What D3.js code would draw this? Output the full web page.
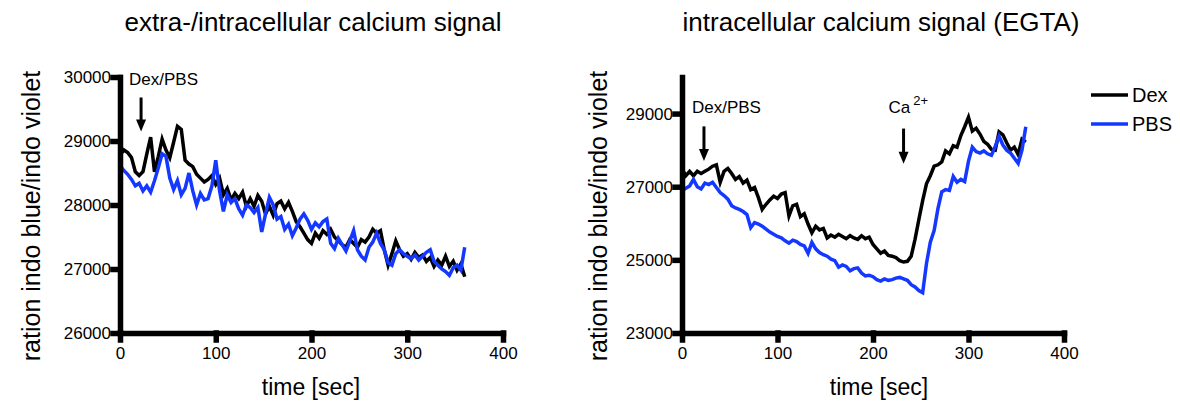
<!DOCTYPE html>
<html>
<head>
<meta charset="utf-8">
<script src="https://cdn.jsdelivr.net/npm/d3@7"></script>
<style>
    body { margin: 0; background: #fff; }
    svg text { font-family: "Liberation Sans", Arial, sans-serif; fill: #000; }
</style>
</head>
<body>
<div id="chart"></div>
<script>
// time points (sec)
const timeSec = [
    0, 4, 8, 12, 16, 20, 24, 28, 32, 36,
    40, 44, 48, 52, 56, 60, 64, 68, 72, 76,
    80, 84, 88, 92, 96, 100, 104, 108, 112, 116,
    120, 124, 128, 132, 136, 140, 144, 148, 152, 156,
    160, 164, 168, 172, 176, 180, 184, 188, 192, 196,
    200, 204, 208, 212, 216, 220, 224, 228, 232, 236,
    240, 244, 248, 252, 256, 260, 264, 268, 272, 276,
    280, 284, 288, 292, 296, 300, 304, 308, 312, 316,
    320, 324, 328, 332, 336, 340, 344, 348, 352, 356,
    360
];

// extra-/intracellular panel
const extraDex = [
    28780, 28860, 28820, 28740, 28520, 28460, 28520, 28800, 29060, 28520,
    28760, 29030, 28860, 28740, 28980, 29230, 29180, 28700, 28640, 28600,
    28480, 28420, 28360, 28400, 28460, 28320, 28420, 28160, 28260, 28080,
    28180, 28100, 28200, 27980, 28100, 27980, 28150, 28060, 27860, 27980,
    27840, 28020, 28060, 27940, 28040, 27900, 27740, 27660, 27560, 27460,
    27400, 27560, 27480, 27600, 27540, 27620, 27500, 27440, 27380, 27340,
    27460, 27400, 27340, 27460, 27420, 27500, 27620, 27560, 27600, 27300,
    27060, 27240, 27440, 27300, 27200, 27240, 27150, 27260, 27180, 27220,
    27120, 27180, 27040, 27140, 27060, 27200, 27040, 27120, 26980, 27080,
    26880
];
const extraPBS = [
    28620, 28540, 28480, 28400, 28300, 28340, 28220, 28300, 28200, 28380,
    28580, 28800, 28760, 28420, 28240, 28380, 28160, 28260, 28500, 28220,
    28000, 28180, 28080, 28100, 28300, 28700, 28220, 27900, 28160, 28040,
    28100, 27940, 27840, 28000, 27960, 27880, 27960, 27580, 27860, 28120,
    28000, 27780, 27820, 27620, 27700, 27520, 27640, 27780, 27860, 27760,
    27620, 27720, 27660, 27740, 27780, 27400, 27320, 27480, 27380, 27280,
    27440, 27600, 27300, 27200, 27140, 27340, 27420, 27560, 27400, 27300,
    27100, 27060, 27240, 27300, 27240, 27200, 27160, 27220, 27140, 27200,
    27260, 27300, 27120, 27060, 27000, 26960, 26900, 27020, 27060, 26980,
    27340
];

// intracellular (EGTA) panel
const egtaDex = [
    27480, 27300, 27420, 27300, 27420, 27360, 27420, 27480, 27560, 27600,
    27120, 27420, 27500, 27360, 27200, 27280, 27100, 27180, 26920, 26980,
    26700, 26380, 26520, 26640, 26740, 26680, 26800, 26840, 26200, 26480,
    26520, 26180, 26260, 25980, 25740, 25920, 25820, 25860, 25600, 25680,
    25620, 25700, 25640, 25580, 25660, 25600, 25560, 25660, 25580, 25620,
    25420, 25300, 25180, 25240, 25120, 25100, 25060, 24980, 24940, 24960,
    25100, 25560, 26100, 26620, 27080, 27300, 27560, 27600, 27680, 27980,
    27900, 28120, 28080, 28400, 28640, 28900, 28520, 28600, 28440, 28240,
    28160, 28020, 28000, 28500, 28420, 28200, 28000, 28080, 27880, 28300,
    28220
];
const egtaPBS = [
    26880, 26960, 27020, 27200, 27000, 26940, 27100, 27060, 27120, 26980,
    26840, 26760, 26660, 26480, 26420, 26380, 26320, 26240, 25880, 26020,
    25980, 25920, 25840, 25760, 25700, 25640, 25600, 25520, 25460, 25540,
    25500, 25420, 25380, 25180, 25480, 25300, 25200, 25140, 25100, 25020,
    24980, 24800, 24860, 24820, 24700, 24760, 24780, 24640, 24560, 24580,
    24540, 24460, 24420, 24480, 24440, 24460, 24500, 24520, 24480, 24440,
    24320, 24260, 24160, 24100, 24900, 25480, 25800, 26400, 26860, 26920,
    26900, 27280, 27120, 27200, 27140, 27700, 28080, 27960, 27920, 27980,
    27900, 27860, 28100, 28380, 28140, 28000, 27920, 27780, 27640, 28000,
    28640
];

const xTicks = [0, 100, 200, 300, 400];
const extraTicks = [26000, 27000, 28000, 29000, 30000];
const egtaTicks = [23000, 25000, 27000, 29000];
const seriesNames = ["Dex", "PBS"];
const seriesColors = ["#000000", "#1438ff"];

const svg = d3.select("#chart").append("svg")
    .attr("width", 1180)
    .attr("height", 405);

function drawPanel(opt) {
    const x = d3.scaleLinear().domain([0, 400]).range([opt.left, opt.right]);
    const y = d3.scaleLinear().domain(opt.yDomain).range([333, 77]);
    const g = svg.append("g");

    // title
    g.append("text")
        .attr("x", opt.titleX)
        .attr("y", 31)
        .attr("text-anchor", "middle")
        .style("font-size", "26px")
        .text(opt.title);

    // lines - Dex first, PBS on top
    const line = d3.line()
        .x((d, i) => x(timeSec[i]))
        .y(d => y(d));
    opt.series.forEach((vals, k) => {
        g.append("path")
            .datum(vals)
            .attr("fill", "none")
            .attr("stroke", seriesColors[k])
            .attr("stroke-width", 3.5)
            .attr("stroke-linejoin", "miter")
            .attr("d", line);
    });

    // axes
    const xAxisG = g.append("g")
        .attr("transform", `translate(0,${y.range()[0]})`)
        .call(d3.axisBottom(x).tickValues(xTicks).tickSize(7).tickSizeOuter(0).tickPadding(7));
    const yAxisG = g.append("g")
        .attr("transform", `translate(${opt.left},0)`)
        .call(d3.axisLeft(y).tickValues(opt.yTicks).tickFormat(d3.format("d")).tickSize(7).tickSizeOuter(0).tickPadding(2));
    [xAxisG, yAxisG].forEach(a => {
        a.selectAll(".domain, .tick line")
            .attr("stroke", "#000")
            .attr("stroke-width", 5.5)
            .attr("stroke-linecap", "square");
        a.selectAll("text")
            .style("font-size", "17px")
            .style("font-family", "'Liberation Sans', Arial, sans-serif");
    });

    // axis titles
    g.append("text")
        .attr("x", opt.titleX - 2)
        .attr("y", 395)
        .attr("text-anchor", "middle")
        .style("font-size", "23px")
        .text("time [sec]");
    g.append("text")
        .attr("transform", `translate(${opt.yLabelX},216) rotate(-90)`)
        .attr("text-anchor", "middle")
        .style("font-size", "25px")
        .text("ration indo blue/indo violet");

    // stimulus arrows
    opt.arrows.forEach(a => {
        const ax = x(a.t), y0 = y(a.from), y1 = y(a.to);
        g.append("line")
            .attr("x1", ax).attr("x2", ax)
            .attr("y1", y0).attr("y2", y1 - 10)
            .attr("stroke", "#000")
            .attr("stroke-width", 3);
        g.append("path")
            .attr("d", `M${ax - 5},${y1 - 12}L${ax + 5},${y1 - 12}L${ax},${y1}Z`)
            .attr("fill", "#000");
        const lab = g.append("text")
            .attr("x", ax - a.dx)
            .attr("y", y0 - a.dy)
            .style("font-size", "17px")
            .text(a.label);
        if (a.sup) {
            lab.append("tspan")
                .attr("dx", 3)
                .attr("dy", -8)
                .style("font-size", "13px")
                .text(a.sup);
        }
    });
}

drawPanel({
    title: "extra-/intracellular calcium signal",
    titleX: 313, yLabelX: 40,
    left: 120, right: 503,
    yDomain: [26000, 30000],
    yTicks: extraTicks,
    series: [extraDex, extraPBS],
    arrows: [{t: 22, from: 29680, to: 29150, label: "Dex/PBS", dx: 12, dy: 12}]
});

drawPanel({
    title: "intracellular calcium signal (EGTA)",
    titleX: 881, yLabelX: 607,
    left: 682, right: 1064,
    yDomain: [23000, 30000],
    yTicks: egtaTicks,
    series: [egtaDex, egtaPBS],
    arrows: [
        {t: 23, from: 28650, to: 27700, label: "Dex/PBS", dx: 12, dy: 13},
        {t: 232, from: 28590, to: 27630, label: "Ca", sup: "2+", dx: 15, dy: 16}
    ]
});

// legend
const legend = svg.append("g");
seriesNames.forEach((name, i) => {
    legend.append("line")
        .attr("x1", 1091).attr("x2", 1128)
        .attr("y1", 95 + i * 29).attr("y2", 95 + i * 29)
        .attr("stroke", seriesColors[i])
        .attr("stroke-width", 3.5);
    legend.append("text")
        .attr("x", 1132)
        .attr("y", 95 + i * 29)
        .attr("dy", "0.35em")
        .style("font-size", "20px")
        .text(name);
});
</script>
</body>
</html>
